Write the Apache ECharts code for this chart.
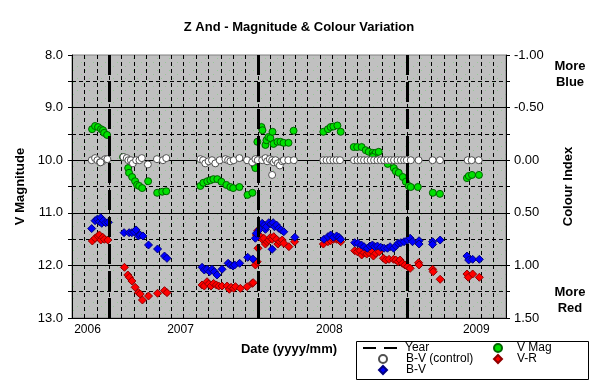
<!DOCTYPE html>
<html><head><meta charset="utf-8">
<script src="https://cdn.jsdelivr.net/npm/echarts@6/dist/echarts.min.js"></script>
<style>html,body{margin:0;padding:0;background:#fff}#c{width:598px;height:381px}</style>
</head><body><div id="c"></div>
<script>
// x values: months since 2006-01-01
const yearLines = [12, 24, 36];
const xLabelPos = [10.25, 17.75, 29.75, 41.6];
const xLabelText = ['2006', '2007', '2008', '2009'];

const vMagT = [10.62,10.86,11.1,11.34,11.5,11.59,11.83,
  13.12,13.53,13.6,13.85,14.09,14.25,14.42,14.66,15.14,15.87,16.28,16.6,
  19.35,19.59,19.91,20.16,20.4,20.72,21.05,21.45,21.77,22.0,22.5,23.15,23.55,
  23.71,23.79,23.95,24.28,24.36,24.6,24.68,24.84,25.0,25.17,25.25,25.57,25.81,26.06,26.46,26.87,
  29.27,29.64,29.86,30.08,30.4,30.67,
  31.72,32.0,32.36,32.69,32.93,33.25,33.33,33.5,33.74,33.25,34.46,34.95,35.11,35.35,35.68,35.92,36.16,36.32,36.89,38.1,38.67,
  40.85,41.0,41.26,41.82];
const vMag = [9.41,9.35,9.37,9.41,9.43,9.48,9.52,
  9.94,10.15,10.24,10.32,10.40,10.47,10.49,10.53,10.40,10.62,10.60,10.59,
  10.49,10.43,10.40,10.38,10.36,10.36,10.41,10.47,10.51,10.53,10.51,10.66,10.62,
  10.09,10.15,9.65,9.37,9.43,9.71,9.62,9.56,9.58,9.46,9.69,9.65,9.65,9.67,9.67,9.44,
  9.46,9.41,9.37,9.36,9.34,9.46,
  9.75,9.75,9.75,9.81,9.84,9.86,9.90,9.86,9.84,9.94,10.07,10.15,10.21,10.24,10.32,10.41,10.49,10.51,10.51,10.62,10.64,
  10.34,10.30,10.28,10.28];

const ctrlT = [10.59,10.86,11.05,11.26,11.45,11.67,11.85,11.3,
  13.15,13.42,13.55,13.75,13.91,14.17,14.44,14.63,15.12,15.85,16.33,16.6,
  19.35,19.57,19.75,20.02,20.29,20.56,20.91,21.37,21.59,21.77,22.04,22.5,23.12,23.53,23.93,
  23.79,23.98,24.34,24.6,24.74,24.95,25.14,25.27,25.41,25.6,25.76,25.95,26.08,26.44,26.89,25.14,
  29.27,29.53,29.8,30.08,30.34,30.61,
  31.74,32.02,32.28,32.55,32.82,33.09,33.36,33.63,33.9,34.17,34.44,34.71,34.97,35.25,35.52,35.78,36.0,36.32,36.95,38.08,38.67,
  40.91,41.23,41.8];
const ctrlBV = [0.00,-0.02,0.00,0.02,0.01,-0.01,-0.01,0.02,
  -0.03,-0.02,0.00,0.00,0.03,0.00,0.00,-0.02,0.04,-0.01,0.00,-0.02,
  -0.01,0.00,0.03,0.01,0.00,0.03,0.00,-0.01,0.00,0.01,0.00,-0.02,0.00,0.02,-0.01,
  -0.01,0.00,0.00,-0.02,0.01,-0.01,0.00,0.02,0.00,0.03,0.05,0.01,0.00,0.00,0.00,0.14,
  0,0,0,0,0,0,
  0,0,0,0,0,0,0,0,0,0,0,0,0,0,0,0,0,0,0,0,0,
  0,0,0];

const bvT = [10.59,10.86,11.05,11.21,11.32,11.4,11.53,11.72,11.93,
  13.2,13.61,13.83,14.01,14.17,14.36,14.5,14.72,15.17,15.9,16.46,16.66,
  19.49,19.67,19.89,20.1,20.29,20.48,20.7,21.1,21.59,21.77,21.99,22.12,22.52,23.17,23.58,
  23.79,23.87,24.14,24.34,24.52,24.6,24.68,24.87,25.06,25.14,25.22,25.33,25.49,25.68,25.87,26.08,26.97,
  29.32,29.64,29.86,30.08,30.34,30.53,30.67,
  31.8,32.06,32.34,32.55,32.82,33.03,33.23,33.41,33.63,33.9,34.17,34.44,34.65,34.93,35.11,35.3,35.52,35.78,36.06,36.27,36.46,36.99,36.99,38.08,38.08,38.69,
  40.85,40.99,41.31,41.85];
const bv = [0.65,0.575,0.56,0.585,0.547,0.60,0.575,0.594,0.59,
  0.689,0.689,0.689,0.68,0.663,0.72,0.711,0.72,0.806,0.844,0.911,0.933,
  1.018,1.044,1.037,1.06,1.037,1.06,1.091,1.037,0.98,0.996,1.006,0.996,0.98,0.923,0.939,
  0.742,0.695,0.657,0.60,0.616,0.657,0.632,0.594,0.606,0.847,0.594,0.632,0.616,0.647,0.663,0.68,0.733,
  0.752,0.727,0.711,0.733,0.72,0.733,0.752,
  0.784,0.79,0.806,0.822,0.837,0.816,0.806,0.822,0.816,0.828,0.837,0.837,0.822,0.837,0.816,0.79,0.784,0.775,0.759,0.742,0.775,0.765,0.797,0.775,0.8,0.759,
  0.911,0.949,0.942,0.942];

const vrT = [10.64,10.86,11.08,11.21,11.32,11.48,11.61,11.89,
  13.23,13.5,13.63,13.83,14.09,14.36,14.5,14.68,15.17,15.9,16.46,16.66,
  19.49,19.67,19.89,20.02,20.21,20.42,20.64,20.83,21.1,21.51,21.69,21.83,22.04,22.18,22.58,23.12,23.53,
  23.61,23.79,23.93,24.0,
  23.87,23.98,24.2,24.34,24.47,24.6,24.74,24.87,25.01,25.14,25.27,25.49,25.6,25.76,25.95,26.08,26.49,26.95,
  29.27,29.64,29.86,30.08,30.34,30.53,30.67,
  31.8,32.01,32.23,32.36,32.55,32.77,32.95,33.15,33.31,33.5,33.77,34.12,34.3,34.57,34.93,35.11,35.3,35.46,35.65,35.84,36.06,36.27,36.95,36.99,38.08,38.13,38.69,
  40.85,40.96,41.31,41.85];
const vr = [0.768,0.742,0.72,0.711,0.759,0.733,0.752,0.759,
  1.018,1.091,1.113,1.148,1.208,1.259,1.272,1.329,1.291,1.265,1.24,1.259,
  1.186,1.196,1.155,1.177,1.196,1.171,1.186,1.196,1.196,1.196,1.227,1.208,1.218,1.202,1.218,1.202,1.171,
  1.164,0.996,0.965,0.837,
  0.711,0.67,0.727,0.752,0.742,0.797,0.775,0.759,0.733,0.752,0.727,0.752,0.797,0.775,0.759,0.79,0.822,0.775,
  0.797,0.775,0.765,0.752,0.752,0.759,0.775,
  0.86,0.87,0.86,0.901,0.879,0.892,0.879,0.86,0.911,0.885,0.87,0.932,0.949,0.942,0.942,0.949,0.965,0.949,0.98,0.996,1.012,1.028,0.975,0.996,1.037,1.06,1.132,
  1.082,1.113,1.082,1.113];

function pairs(t, v) { return t.map((x, i) => [x, v[i]]); }

// plot-area fill pattern (grey with sparse faint green dots)
const pat = document.createElement('canvas');
pat.width = 12; pat.height = 12;
const pc = pat.getContext('2d');
pc.fillStyle = '#C0C0C0'; pc.fillRect(0, 0, 12, 12);
pc.fillStyle = '#96C896';
[[1, 10], [5, 6], [9, 2]].forEach(p => pc.fillRect(p[0], p[1], 1, 1));

const F = '"Liberation Sans", Arial, sans-serif';
const legText = (pad) => ({ fontFamily: F, fontSize: 12, lineHeight: 12, color: '#000', padding: [0, 0, 0, pad] });
function leg(name, left, top, w, pad) {
  return { data: [name], left: left, top: top, itemWidth: w, itemHeight: 8, itemGap: 0,
           padding: 0, textStyle: legText(pad), selectedMode: false };
}

const chart = echarts.init(document.getElementById('c'), null, { renderer: 'canvas' });
chart.setOption({
  animation: false,
  textStyle: { fontFamily: F, color: '#000' },
  title: {
    text: 'Z And - Magnitude & Colour Variation', left: 'center', top: 16,
    textStyle: { fontFamily: F, fontSize: 13, fontWeight: 'bold', color: '#000' }
  },
  grid: {
    left: 72, right: 92, top: 55, bottom: 63, show: true,
    backgroundColor: { image: pat, repeat: 'repeat' },
    borderColor: '#808080', borderWidth: 1
  },
  xAxis: [{
    type: 'value', min: 9, max: 44, interval: 1,
    axisLine: { show: true, lineStyle: { color: '#000' } },
    axisTick: { show: true, length: 4, lineStyle: { color: '#000' } },
    axisLabel: { show: false },
    splitLine: { show: true, lineStyle: { color: '#000', type: [4, 3] } },
    name: 'Date (yyyy/mm)', nameLocation: 'middle', nameGap: 25,
    nameTextStyle: { fontFamily: F, fontWeight: 'bold', fontSize: 13, color: '#000' }
  }, {
    type: 'value', min: 9, max: 44, position: 'bottom',
    axisLine: { show: false }, axisTick: { show: false }, splitLine: { show: false },
    axisLabel: {
      customValues: xLabelPos,
      formatter: v => { const i = xLabelPos.indexOf(v); return i >= 0 ? xLabelText[i] : ''; },
      fontFamily: F, fontSize: 12, color: '#000', margin: 6
    }
  }],
  yAxis: [{
    type: 'value', inverse: true, min: 8, max: 13, interval: 1, position: 'left',
    axisLine: { show: true, lineStyle: { color: '#000' } },
    axisTick: { show: true, length: 4, lineStyle: { color: '#000' } },
    minorTick: { show: true, splitNumber: 2, length: 4, lineStyle: { color: '#000' } },
    splitLine: { show: true, showMinLine: false, lineStyle: { color: '#000' } },
    minorSplitLine: { show: true, lineStyle: { color: '#000', type: [4, 3] } },
    axisLabel: { formatter: v => v.toFixed(1), fontFamily: F, fontSize: 13, color: '#000', margin: 9 },
    name: 'V Magnitude', nameLocation: 'middle', nameRotate: 90, nameGap: 39,
    nameTextStyle: { fontFamily: F, fontWeight: 'bold', fontSize: 13, color: '#000' }
  }, {
    type: 'value', inverse: true, min: -1, max: 1.5, interval: 0.5, position: 'right',
    axisLine: { show: true, lineStyle: { color: '#000' } },
    axisTick: { show: true, length: 4, lineStyle: { color: '#000' } },
    minorTick: { show: true, splitNumber: 2, length: 4, lineStyle: { color: '#000' } },
    splitLine: { show: false },
    axisLabel: { formatter: v => v.toFixed(2), fontFamily: F, fontSize: 13, color: '#000', margin: 8 },
    name: 'Colour Index', nameLocation: 'middle', nameRotate: 90, nameGap: 56,
    nameTextStyle: { fontFamily: F, fontWeight: 'bold', fontSize: 13, color: '#000' }
  }],
  legend: [
    leg('Year', 362, 342, 34, 3),
    leg('B-V (control)', 378, 353, 8, 14),
    leg('B-V', 378, 364, 8, 14),
    leg('V Mag', 493, 342, 8, 10),
    leg('V-R', 493, 353, 8, 10)
  ],
  graphic: [
    { type: 'rect', shape: { x: 356.5, y: 341.5, width: 232, height: 38 }, style: { fill: 'none', stroke: '#000', lineWidth: 1 } },
    { type: 'text', style: { text: 'More\nBlue', x: 570, y: 58, textAlign: 'center', textVerticalAlign: 'top', font: 'bold 13px "Liberation Sans", Arial', lineHeight: 16, fill: '#000' } },
    { type: 'text', style: { text: 'More\nRed', x: 570, y: 284, textAlign: 'center', textVerticalAlign: 'top', font: 'bold 13px "Liberation Sans", Arial', lineHeight: 16, fill: '#000' } }
  ],
  series: [{
    name: 'Year', type: 'line', data: [], xAxisIndex: 0, yAxisIndex: 0, symbol: 'none',
    lineStyle: { color: '#000', width: 2, type: [13, 8] }, itemStyle: { color: '#000', opacity: 0 },
    markLine: {
      silent: true, symbol: ['none', 'none'], label: { show: false },
      lineStyle: { color: '#000', width: 3, type: [20, 7], opacity: 1 },
      data: yearLines.map(x => ({ xAxis: x }))
    }
  }, {
    name: 'V Mag', type: 'scatter', xAxisIndex: 0, yAxisIndex: 0, data: pairs(vMagT, vMag),
    symbol: 'circle', symbolSize: 7,
    itemStyle: { color: '#00E000', borderColor: '#006400', borderWidth: 1, opacity: 1 }
  }, {
    name: 'B-V (control)', type: 'scatter', xAxisIndex: 0, yAxisIndex: 1, data: pairs(ctrlT, ctrlBV),
    symbol: 'circle', symbolSize: 7,
    itemStyle: { color: '#FFFFFF', borderColor: '#505050', borderWidth: 1, opacity: 1 }
  }, {
    name: 'V-R', type: 'scatter', xAxisIndex: 0, yAxisIndex: 1, data: pairs(vrT, vr),
    symbol: 'diamond', symbolSize: 8,
    itemStyle: { color: '#FF0000', borderColor: '#900000', borderWidth: 1, opacity: 1 }
  }, {
    name: 'B-V', type: 'scatter', xAxisIndex: 0, yAxisIndex: 1, data: pairs(bvT, bv),
    symbol: 'diamond', symbolSize: 8,
    itemStyle: { color: '#0000FF', borderColor: '#000080', borderWidth: 1, opacity: 1 }
  }]
});
</script></body></html>
